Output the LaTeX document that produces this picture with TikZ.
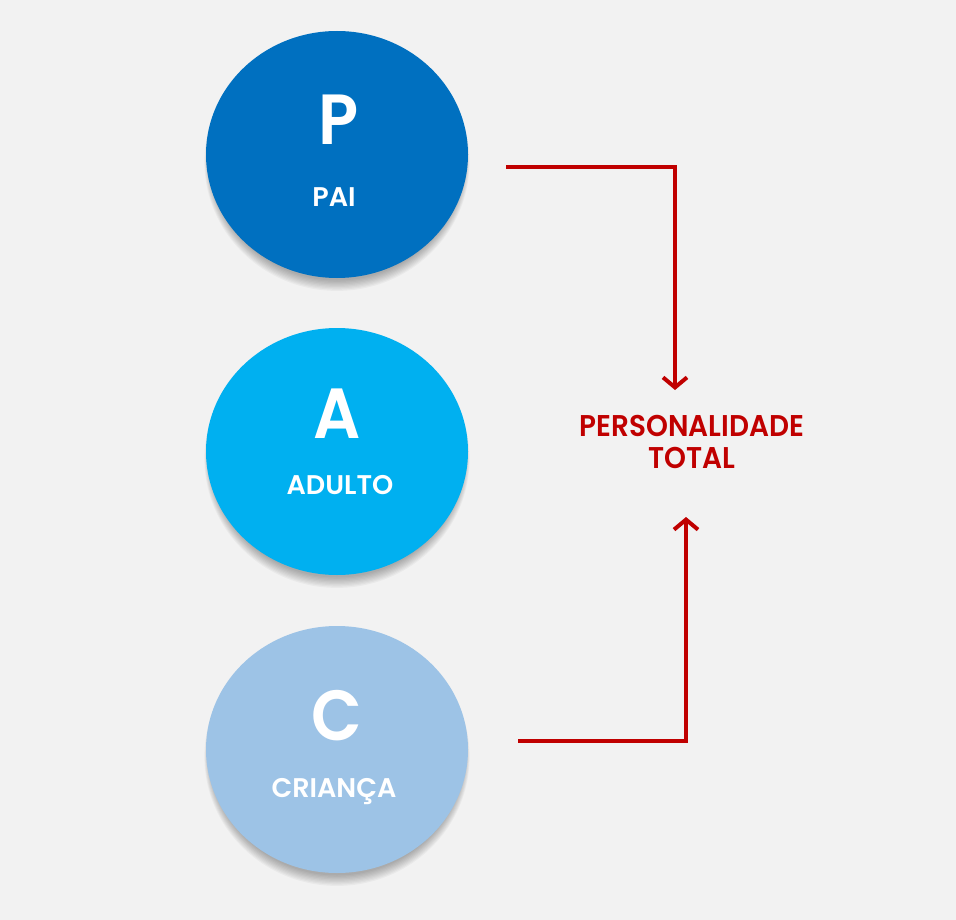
\documentclass[tikz,border=0pt]{standalone}
\usepackage{fontspec}
\newfontfamily\pop{Poppins SemiBold}[FakeStretch=0.93]
\newfontfamily\popw{Poppins SemiBold}
\usetikzlibrary{shapes.geometric,arrows.meta}
\definecolor{bg}{HTML}{F2F2F2}
\definecolor{cP}{HTML}{0070C0}
\definecolor{cA}{HTML}{00B0F0}
\definecolor{cC}{HTML}{9DC3E6}
\definecolor{dred}{HTML}{C00000}
\tikzset{
  blob/.style={ellipse, minimum width=262pt, minimum height=247pt, inner sep=0pt},
  big/.style={anchor=base, text=white, font=\pop\fontsize{71}{71}\selectfont},
  small/.style={anchor=base, text=white, font=\popw\fontsize{27}{27}\selectfont},
  conn/.style={draw=dred, line width=4pt, -{Straight Barb[length=10pt,width=24pt]}},
}
\newcommand{\blobshadow}[2]{%
  \foreach \k in {0,1,...,8} {
    \fill[black, opacity=0.035] (#1,#2+4+\k*0.4) ellipse ({127+\k*0.7} and {122+\k*0.9});
  }%
}
\begin{document}
\begin{tikzpicture}[x=1pt,y=-1pt]
\fill[bg] (0,0) rectangle (956,920);
\useasboundingbox (0,0) rectangle (956,920);
% shadows
\blobshadow{337}{154.5}
\blobshadow{337}{451.5}
\blobshadow{337}{749.5}
% circles
\node[blob, fill=cP] (P) at (337,154.5) {};
\node[blob, fill=cA] (A) at (337,451.5) {};
\node[blob, fill=cC] (C) at (337,749.5) {};
% texts
\node[big] (Pl) at (339,145) {P};
\node[small] (Pt) at (334,207) {PAI};
\node[big] (Al) at (337,438) {A};
\node[small] (At) at (340,494) {ADULTO};
\node[big] (Cl) at (337,740) {C};
\node[small] (Ct) at (334,797) {CRIANÇA};
\node[anchor=base, align=center, text=dred, font=\pop\fontsize{30}{32}\selectfont] (T) at (692,468) {PERSONALIDADE\\TOTAL};
% connectors
\coordinate (ps) at (506,167);
\coordinate (pe) at (675,390);
\coordinate (cs) at (518,741);
\coordinate (ce) at (686,517);
\draw[conn] (ps) -| (pe);
\draw[conn] (cs) -| (ce);
\end{tikzpicture}
\end{document}
